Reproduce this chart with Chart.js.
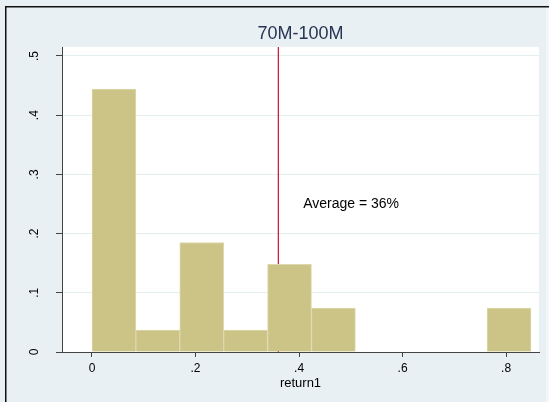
<!DOCTYPE html>
<html>
<head>
<meta charset="utf-8">
<script src="https://cdn.jsdelivr.net/npm/chart.js@4"></script>
<style>
  html, body { margin: 0; padding: 0; background: #e9f0f3; overflow: hidden; }
  canvas { display: block; }
</style>
</head>
<body>
<canvas id="hist" width="549" height="402"></canvas>
<script>
// histogram of return1, 70M-100M group (fraction per bin)
const binCenters = [0.0424, 0.1272, 0.2120, 0.2968, 0.3816, 0.4664, 0.5512, 0.6360, 0.7208, 0.8056];
const fractions = [0.444, 0.037, 0.185, 0.037, 0.148, 0.074, 0, 0, 0, 0.074];
const xTicks = [0, 0.2, 0.4, 0.6, 0.8];
const xTickLabels = ["0", ".2", ".4", ".6", ".8"];
const yTicks = [0, 0.1, 0.2, 0.3, 0.4, 0.5];
const yTickLabels = ["0", ".1", ".2", ".3", ".4", ".5"];
const averageReturn = 0.36;
const averageText = "Average = 36%";
const titleText = "70M-100M";
const xTitle = "return1";

const fonte = '"Liberation Sans", Arial, sans-serif';

// fundo, moldura e area branca do grafico
const fundoPlugin = {
    id: "fundo",
    beforeDraw(chart) {
        const ctx = chart.ctx;
        const a = chart.chartArea;
        ctx.save();
        ctx.fillStyle = "#e9f0f3";
        ctx.fillRect(0, 0, chart.width, chart.height);
        ctx.fillStyle = "#111";
        ctx.fillRect(5, 6, chart.width - 5, 1.5);   // moldura em cima
        ctx.fillRect(5, 6, 1.5, chart.height - 6);  // moldura na esquerda
        ctx.fillStyle = "#ffffff";
        ctx.fillRect(a.left, a.top, a.right - a.left, a.bottom - a.top);
        ctx.restore();
    }
};

// linha vermelha da media, atras das barras
const mediaPlugin = {
    id: "media",
    beforeDatasetsDraw(chart) {
        const ctx = chart.ctx;
        const x = chart.scales.x.getPixelForValue(averageReturn);
        ctx.save();
        ctx.strokeStyle = "#c8102e";
        ctx.lineWidth = 1.2;
        ctx.beginPath();
        ctx.moveTo(x, chart.chartArea.top);
        ctx.lineTo(x, chart.chartArea.bottom);
        ctx.stroke();
        ctx.restore();
    },
    afterDraw(chart) {
        const ctx = chart.ctx;
        const sx = chart.scales.x;
        const sy = chart.scales.y;
        const a = chart.chartArea;
        ctx.save();

        // borda direita: fundo e faixa clara, como na imagem original
        ctx.fillStyle = "#e9f0f3";
        ctx.fillRect(a.right + 1, 8, chart.width - a.right - 1, chart.height - 8);
        ctx.fillStyle = "#f4f7f8";
        ctx.fillRect(chart.width - 3, 8, 3, chart.height - 8);

        // titulo
        ctx.fillStyle = "#263552";
        ctx.font = "18px " + fonte;
        ctx.textAlign = "center";
        ctx.textBaseline = "middle";
        ctx.fillText(titleText, (a.left + a.right) / 2, 34);

        // texto da media
        ctx.fillStyle = "#000";
        ctx.font = "14px " + fonte;
        ctx.textAlign = "left";
        ctx.fillText(averageText, sx.getPixelForValue(0.408), sy.getPixelForValue(0.25));

        // titulo do eixo x
        ctx.font = "13px " + fonte;
        ctx.textAlign = "center";
        ctx.fillText(xTitle, (a.left + a.right) / 2, 383);

        // rotulos do eixo y, girados
        ctx.font = "12px " + fonte;
        yTicks.forEach((v, i) => {
            const y = sy.getPixelForValue(v);
            ctx.save();
            ctx.translate(35, y);
            ctx.rotate(-Math.PI / 2);
            ctx.textAlign = "center";
            ctx.textBaseline = "middle";
            ctx.fillText(yTickLabels[i], 0, 0);
            ctx.restore();
        });
        ctx.restore();
    }
};

const dados = binCenters.map((c, i) => ({ x: c, y: fractions[i] }));

new Chart(document.getElementById("hist"), {
    type: "bar",
    data: {
        datasets: [{
            data: dados,
            backgroundColor: "#cbc486",
            borderColor: "#ddd8ac",
            borderWidth: 1,
            barPercentage: 1,
            categoryPercentage: 1
        }]
    },
    options: {
        responsive: false,
        animation: false,
        devicePixelRatio: 1,
        layout: { padding: { left: 0, right: 10, top: 47, bottom: 0 } },
        plugins: {
            legend: { display: false },
            tooltip: { enabled: false },
            title: { display: false }
        },
        scales: {
            x: {
                type: "linear",
                offset: false,
                min: -0.0579,
                max: 0.8635,
                afterBuildTicks: s => { s.ticks = xTicks.map(v => ({ value: v })); },
                afterFit: s => { s.height = 50; },
                ticks: {
                    callback: (v) => xTickLabels[xTicks.indexOf(v)],
                    color: "#000",
                    font: { family: fonte, size: 12 },
                    padding: 4,
                    maxRotation: 0
                },
                grid: { offset: false, drawOnChartArea: false, drawTicks: true, tickLength: 5, tickColor: "#444" },
                border: { color: "#444", width: 1 }
            },
            y: {
                min: 0,
                max: 0.5152,
                afterBuildTicks: s => { s.ticks = yTicks.map(v => ({ value: v })); },
                afterFit: s => { s.width = 62; },
                ticks: { display: false },
                grid: { color: "#e4edf0", tickLength: 6, tickColor: "#444" },
                border: { color: "#444", width: 1 }
            }
        }
    },
    plugins: [fundoPlugin, mediaPlugin]
});
</script>
</body>
</html>
